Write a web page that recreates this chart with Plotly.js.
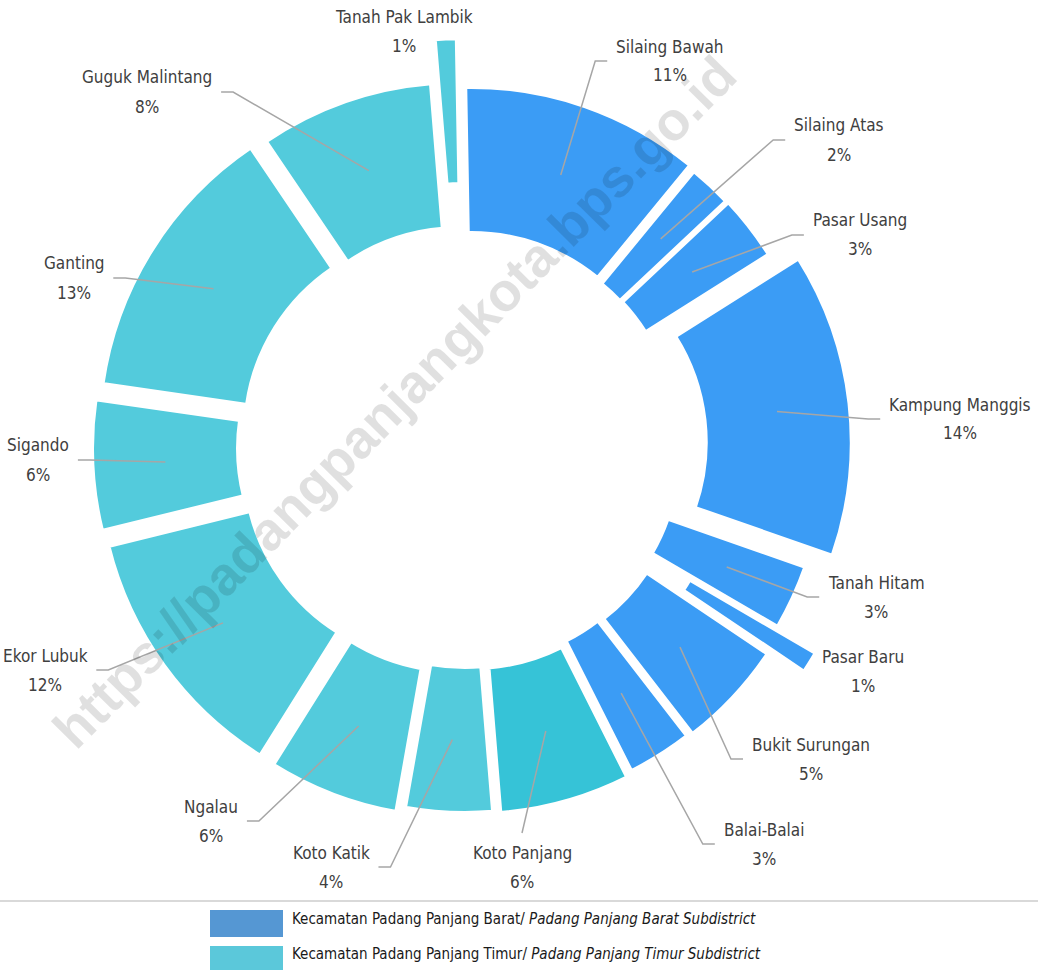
<!DOCTYPE html>
<html>
<head>
<meta charset="utf-8">
<script src="https://cdn.plot.ly/plotly-3.0.1.min.js"></script>
<style>
html,body{margin:0;padding:0;background:#ffffff;}
#chart{width:1038px;height:970px;}
</style>
</head>
<body>
<div id="chart"></div>
<script>
// ---------------- DATA ----------------
const kelurahan = ['Silaing Bawah','Silaing Atas','Pasar Usang','Kampung Manggis','Tanah Hitam','Pasar Baru','Bukit Surungan','Balai-Balai',
                   'Koto Panjang','Koto Katik','Ngalau','Ekor Lubuk','Sigando','Ganting','Guguk Malintang','Tanah Pak Lambik'];
const persen = [11, 2, 3, 14, 3, 1, 5, 3, 6, 4, 6, 12, 6, 13, 8, 1];
const kecamatan = ['Barat','Barat','Barat','Barat','Barat','Barat','Barat','Barat',
                   'Timur','Timur','Timur','Timur','Timur','Timur','Timur','Timur'];
const legendGroups = ['Barat', 'Timur'];
const legendMain = ['Kecamatan Padang Panjang Barat/ ', 'Kecamatan Padang Panjang Timur/ '];
const legendItalic = ['Padang Panjang Barat Subdistrict', 'Padang Panjang Timur Subdistrict'];
const watermark = 'https://padangpanjangkota.bps.go.id';

// ---------------- STYLE / LAYOUT ----------------
const W = 1038, H = 970;
const CX = 466, CY = 447;          // donut centre (px)
const R_OUT = 345, R_IN = 199;     // radii before the white slice border
const ROTATION = -1;               // degrees, first slice start
const BORDER = 4;
const groupColor = {Barat: '#3B9CF5', Timur: '#53CBDC'};
const sliceColorOverride = {8: '#36C3D7'};
const legendColor = {Barat: '#5597D3', Timur: '#5BC8DA'};
// explosion of each slice in px
const pullPx = [16, 13, 14, 41, 15, 61, 21, 19, 23, 21, 27, 28, 29, 26, 21, 64];
// data label placement: centre of the two-line label (px) and side of leader
const labelPlace = [
  [670, 61, 'r'], [839, 140, 'r'], [860, 235, 'r'], [960, 419, 'r'], [876, 597, 'r'],
  [863, 671, 'n'], [811, 759, 'r'], [764, 844, 'r'], [522, 867, 'b'], [331, 867, 'l'],
  [211, 821, 'l'], [45, 670, 'l'], [38, 460, 'l'], [74, 278, 'l'], [147, 92, 'l'], [404, 31, 'n']
];
const LABEL_FONT = '"DejaVu Sans Condensed", "Liberation Sans Narrow", sans-serif';
const LABEL_SIZE = 17;
const LABEL_COLOR = '#404040';
const LEADER_COLOR = '#a6a6a6';

// ---------------- helpers ----------------
const px2x = x => x / W;
const px2y = y => 1 - y / H;
const ctx = document.createElement('canvas').getContext('2d');
function textWidth(t, size, fam) { ctx.font = size + 'px ' + fam; return ctx.measureText(t).width; }

const total = persen.reduce((a, b) => a + b, 0);
const pulls = pullPx.map(p => p / R_OUT);
const maxPull = Math.max(...pulls);
const box = 2 * R_OUT * (1 + maxPull);
const domX = [(CX - box / 2) / W, (CX + box / 2) / W];
const y0 = 1 - (CY + box / 2) / H;
const domY = [y0, y0 + box / H];

const colors = kecamatan.map((k, i) => sliceColorOverride[i] || groupColor[k]);

const trace = {
  type: 'pie',
  labels: kelurahan,
  values: persen,
  sort: false,
  direction: 'clockwise',
  rotation: ROTATION,
  hole: R_IN / R_OUT,
  pull: pulls,
  marker: {colors: colors, line: {color: '#ffffff', width: BORDER}},
  textinfo: 'none',
  hoverinfo: 'label+percent',
  domain: {x: domX, y: domY},
  showlegend: false
};

// ---------------- labels and leader lines ----------------
const annotations = [];
const shapes = [];
const midR = ((R_OUT - BORDER / 2) + (R_IN + BORDER / 2)) / 2;
let cum = 0;
persen.forEach((v, i) => {
  const mid = (cum + v / 2) / total * 2 * Math.PI + ROTATION * Math.PI / 180;
  cum += v;
  const ux = Math.sin(mid), uy = -Math.cos(mid);
  const rr = midR + pullPx[i];
  const sx = CX + rr * ux, sy = CY + rr * uy;
  const [lx, ly, side] = labelPlace[i];
  const name = kelurahan[i];
  const nw = textWidth(name, LABEL_SIZE, LABEL_FONT);
  annotations.push({x: px2x(lx), y: px2y(ly - 14.5), xref: 'paper', yref: 'paper', text: name, showarrow: false,
    xanchor: 'center', yanchor: 'middle', font: {family: LABEL_FONT, size: LABEL_SIZE, color: LABEL_COLOR}});
  annotations.push({x: px2x(lx), y: px2y(ly + 14.5), xref: 'paper', yref: 'paper', text: v + '%', showarrow: false,
    xanchor: 'center', yanchor: 'middle', font: {family: LABEL_FONT, size: LABEL_SIZE, color: LABEL_COLOR}});
  let pts = null;
  if (side === 'r') {
    const e = lx - nw / 2 - 21, f = lx - nw / 2 - 9;
    pts = [[sx, sy], [e, ly], [f, ly]];
  } else if (side === 'l') {
    const e = lx + nw / 2 + 21, f = lx + nw / 2 + 9;
    pts = [[sx, sy], [e, ly], [f, ly]];
  } else if (side === 'b') {
    pts = [[sx, sy], [lx, ly - 34]];
  }
  if (pts) {
    const path = pts.map((p, k) => (k ? 'L ' : 'M ') + px2x(p[0]).toFixed(5) + ' ' + px2y(p[1]).toFixed(5)).join(' ');
    shapes.push({type: 'path', xref: 'paper', yref: 'paper', path: path, line: {color: LEADER_COLOR, width: 1.5}});
  }
});

// watermark
annotations.push({x: px2x(394), y: px2y(402), xref: 'paper', yref: 'paper', text: '<b>' + watermark + '</b>', showarrow: false,
  textangle: -45.4, xanchor: 'center', yanchor: 'middle',
  font: {family: '"Liberation Sans", Arial, sans-serif', size: 54, color: 'rgba(0,0,0,0.12)'}});

// legend
shapes.push({type: 'line', xref: 'paper', yref: 'paper', x0: 0, x1: 1, y0: px2y(901), y1: px2y(901), line: {color: '#d9d9d9', width: 2}});
const legTop = [910, 946], legBot = [937, 972], legText = [919, 954];
legendGroups.forEach((g, i) => {
  shapes.push({type: 'rect', xref: 'paper', yref: 'paper', x0: px2x(210), x1: px2x(283), y0: px2y(legTop[i]), y1: px2y(legBot[i]),
    fillcolor: legendColor[g], line: {width: 0}});
  annotations.push({x: px2x(290), y: px2y(legText[i]), xref: 'paper', yref: 'paper', showarrow: false, xanchor: 'left', yanchor: 'middle',
    text: legendMain[i] + '<i>' + legendItalic[i] + '</i>', font: {family: LABEL_FONT, size: 15, color: '#1a1a1a'}});
});

const layout = {
  width: W, height: H, autosize: false,
  margin: {l: 0, r: 0, t: 0, b: 0, pad: 0},
  paper_bgcolor: '#ffffff', plot_bgcolor: '#ffffff',
  showlegend: false,
  annotations: annotations,
  shapes: shapes
};

Plotly.newPlot('chart', [trace], layout, {displayModeBar: false, staticPlot: true});
</script>
</body>
</html>
